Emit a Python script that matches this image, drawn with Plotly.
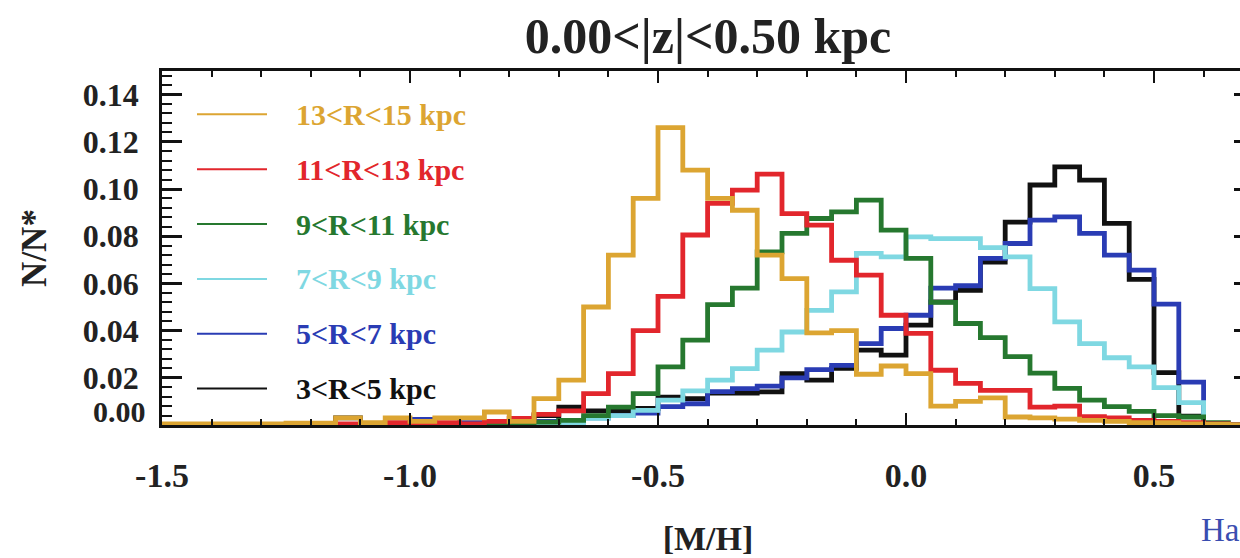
import plotly.graph_objects as go

# ---------------- data ----------------
bin_left_edges = [-1.50, -1.45, -1.40, -1.35, -1.30, -1.25, -1.20, -1.15, -1.10, -1.05,
                  -1.00, -0.95, -0.90, -0.85, -0.80, -0.75, -0.70, -0.65, -0.60, -0.55,
                  -0.50, -0.45, -0.40, -0.35, -0.30, -0.25, -0.20, -0.15, -0.10, -0.05,
                  0.00, 0.05, 0.10, 0.15, 0.20, 0.25, 0.30, 0.35, 0.40, 0.45,
                  0.50, 0.55, 0.60, 0.65]
last_edge = 0.70

r_3_5 = [0.0003, 0.0003, 0.0003, 0.0003, 0.0003, 0.0003, 0.0003, 0.0030, 0.0005, 0.0005,
         0.0024, 0.0005, 0.0005, 0.0010, 0.0015, 0.0040, 0.0076, 0.0060, 0.0060, 0.0070,
         0.0118, 0.0112, 0.0135, 0.0135, 0.0140, 0.0218, 0.0190, 0.0240, 0.0317, 0.0296,
         0.0423, 0.0522, 0.0571, 0.0690, 0.0860, 0.1017, 0.1094, 0.1038, 0.0854, 0.0617,
         0.0222, 0.0037, 0.0000, 0.0000]
r_5_7 = [0.0003, 0.0003, 0.0003, 0.0003, 0.0003, 0.0003, 0.0003, 0.0003, 0.0003, 0.0008,
         0.0024, 0.0005, 0.0010, 0.0010, 0.0010, 0.0015, 0.0020, 0.0030, 0.0040, 0.0050,
         0.0078, 0.0090, 0.0141, 0.0154, 0.0165, 0.0200, 0.0235, 0.0253, 0.0345, 0.0409,
         0.0465, 0.0580, 0.0590, 0.0706, 0.0769, 0.0868, 0.0882, 0.0812, 0.0720, 0.0656,
         0.0512, 0.0182, 0.0000, 0.0000]
r_7_9 = [0.0002, 0.0002, 0.0002, 0.0002, 0.0002, 0.0002, 0.0002, 0.0002, 0.0002, 0.0002,
         0.0002, 0.0002, 0.0002, 0.0002, 0.0002, 0.0005, 0.0010, 0.0028, 0.0040, 0.0062,
         0.0105, 0.0145, 0.0190, 0.0239, 0.0317, 0.0394, 0.0486, 0.0564, 0.0727, 0.0712,
         0.0797, 0.0790, 0.0790, 0.0752, 0.0712, 0.0578, 0.0437, 0.0345, 0.0285, 0.0246,
         0.0158, 0.0095, 0.0000, 0.0000]
r_9_11 = [0.0002, 0.0002, 0.0002, 0.0002, 0.0002, 0.0002, 0.0002, 0.0002, 0.0002, 0.0002,
          0.0002, 0.0002, 0.0002, 0.0002, 0.0005, 0.0012, 0.0020, 0.0040, 0.0076, 0.0133,
          0.0246, 0.0360, 0.0510, 0.0580, 0.0734, 0.0812, 0.0875, 0.0903, 0.0953, 0.0826,
          0.0706, 0.0520, 0.0430, 0.0370, 0.0290, 0.0220, 0.0155, 0.0105, 0.0078, 0.0058,
          0.0040, 0.0034, 0.0010, 0.0000]
r_11_13 = [0.0003, 0.0003, 0.0003, 0.0003, 0.0003, 0.0003, 0.0005, 0.0005, 0.0005, 0.0010,
           0.0005, 0.0010, 0.0005, 0.0015, 0.0028, 0.0045, 0.0060, 0.0133, 0.0218, 0.0400,
           0.0545, 0.0805, 0.0939, 0.0995, 0.1063, 0.0896, 0.0847, 0.0698, 0.0635, 0.0465,
           0.0388, 0.0232, 0.0176, 0.0147, 0.0147, 0.0076, 0.0080, 0.0035, 0.0030, 0.0020,
           0.0015, 0.0010, 0.0005, 0.0000]
r_13_15 = [0.0005, 0.0005, 0.0005, 0.0005, 0.0005, 0.0008, 0.0008, 0.0030, 0.0010, 0.0030,
           0.0015, 0.0030, 0.0030, 0.0055, 0.0015, 0.0112, 0.0190, 0.0500, 0.0720, 0.0960,
           0.1260, 0.1080, 0.0960, 0.0910, 0.0720, 0.0620, 0.0390, 0.0400, 0.0215, 0.0250,
           0.0218, 0.0080, 0.0100, 0.0115, 0.0034, 0.0030, 0.0025, 0.0020, 0.0015, 0.0010,
           0.0010, 0.0005, 0.0003, 0.0000]

series_names = ["3<R<5 kpc", "5<R<7 kpc", "7<R<9 kpc", "9<R<11 kpc", "11<R<13 kpc", "13<R<15 kpc"]
series_values = [r_3_5, r_5_7, r_7_9, r_9_11, r_11_13, r_13_15]
legend_order = ["13<R<15 kpc", "11<R<13 kpc", "9<R<11 kpc", "7<R<9 kpc", "5<R<7 kpc", "3<R<5 kpc"]

x_tick_vals = [-1.5, -1.0, -0.5, 0.0, 0.5]
x_tick_text = ["-1.5", "-1.0", "-0.5", "0.0", "0.5"]
y_tick_vals = [0.00, 0.02, 0.04, 0.06, 0.08, 0.10, 0.12, 0.14]
y_tick_text = ["", "0.02", "0.04", "0.06", "0.08", "0.10", "0.12", "0.14"]

title_text = "0.00<|z|<0.50 kpc"
x_title = "[M/H]"
y_title = "N/N*"

# ---------------- style ----------------
colors = {
    "3<R<5 kpc": "#111111",
    "5<R<7 kpc": "#2a3cb4",
    "7<R<9 kpc": "#7fd8e2",
    "9<R<11 kpc": "#26782f",
    "11<R<13 kpc": "#e2262c",
    "13<R<15 kpc": "#dca532",
}
FONT = "Liberation Serif"

# The original figure's right frame lies just beyond the 1240px crop, so the
# figure is made slightly wider than the window and the page clips it.
W, H = 1254, 558
PLOT_L, PLOT_T, PLOT_B, PLOT_R = 162, 71, 424.7, 1254
PX_PER_UNIT = 496.0


def px_x(p):
    return (p - PLOT_L) / (PLOT_R - PLOT_L)


def px_y(p):
    return (PLOT_B - p) / (PLOT_B - PLOT_T)


fig = go.Figure()
for name, vals in zip(series_names, series_values):
    xs = list(bin_left_edges) + [last_edge]
    ys = list(vals) + [vals[-1]]
    fig.add_trace(go.Scatter(x=xs, y=ys, mode="lines", line_shape="hv",
                             line=dict(color=colors[name], width=4.8),
                             name=name, showlegend=False, hoverinfo="skip"))

# manual legend (key lines + coloured labels)
for i, name in enumerate(legend_order):
    yy = 114.3 + i * 54.8
    fig.add_shape(type="line", xref="paper", yref="paper",
                  x0=px_x(197), x1=px_x(267), y0=px_y(yy), y1=px_y(yy),
                  line=dict(color=colors[name], width=2))
    fig.add_annotation(xref="paper", yref="paper", x=px_x(294), y=px_y(yy),
                       xanchor="left", yanchor="middle", showarrow=False,
                       text=name.replace("<", "&lt;"),
                       font=dict(family=FONT, size=30, color=colors[name], weight="bold"))

# y label 0.00 (drawn slightly above its tick as in the original)
fig.add_annotation(xref="paper", yref="paper", x=px_x(148), y=px_y(411),
                   xanchor="right", yanchor="middle", showarrow=False, text="0.00",
                   font=dict(family=FONT, size=30, color="#222", weight="bold"))

# partial text at the bottom right of the slide
fig.add_annotation(xref="paper", yref="paper", x=px_x(1199), y=px_y(530),
                   xanchor="left", yanchor="middle", showarrow=False, text="Ha",
                   font=dict(family=FONT, size=33, color="#3a4db0"))

fig.update_layout(
    width=W, height=H,
    margin=dict(l=PLOT_L, r=W - PLOT_R, t=PLOT_T, b=H - PLOT_B, autoexpand=False),
    paper_bgcolor="white", plot_bgcolor="white",
    showlegend=False,
    title=dict(text=title_text, x=px_x(708), xref="paper",
               y=1 - 35 / H, yref="container",
               xanchor="center", yanchor="middle",
               font=dict(family=FONT, size=50, color="#222", weight="bold")),
    xaxis=dict(range=[-1.5, -1.5 + (PLOT_R - PLOT_L) / PX_PER_UNIT],
               automargin=False,
               tickmode="array", tickvals=x_tick_vals, ticktext=x_tick_text,
               ticks="inside", ticklen=12, tickwidth=2, tickcolor="#111",
               showline=True, linewidth=2.5, linecolor="#111", mirror="ticks",
               minor=dict(tickmode="linear", tick0=-1.5, dtick=0.1, ticks="inside",
                          ticklen=6, tickwidth=2, tickcolor="#111"),
               showgrid=False, zeroline=False,
               ticklabelstandoff=18,
               tickfont=dict(family=FONT, size=34, color="#222", weight="bold"),
               title=dict(text=x_title, standoff=34,
                          font=dict(family=FONT, size=34, color="#222", weight="bold"))),
    yaxis=dict(range=[0.0, 0.15],
               automargin=False,
               tickmode="array", tickvals=y_tick_vals, ticktext=y_tick_text,
               ticks="inside", ticklen=20, tickwidth=2.5, tickcolor="#111",
               showline=True, linewidth=2.5, linecolor="#111", mirror="ticks",
               minor=dict(tickmode="linear", tick0=0, dtick=0.004, ticks="inside",
                          ticklen=10, tickwidth=2, tickcolor="#111"),
               showgrid=False, zeroline=False,
               ticklabelstandoff=14,
               tickfont=dict(family=FONT, size=32, color="#222", weight="bold"),
               title=dict(text=y_title, standoff=26,
                          font=dict(family=FONT, size=35, color="#222", weight="bold"))),
)

# remove the browser's default 8px page margin so the figure fills the window exactly
fig.write_html("out.html",
               config={"displayModeBar": False},
               post_script="document.body.style.margin='0';document.body.style.overflow='hidden';")
